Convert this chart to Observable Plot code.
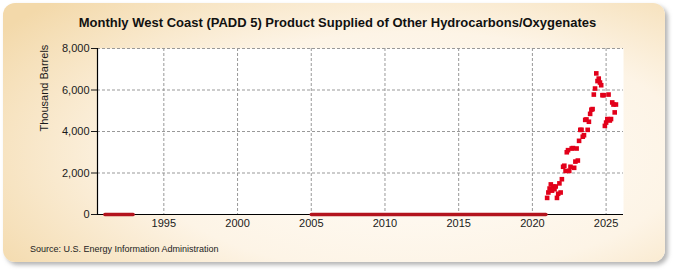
<!DOCTYPE html>
<html>
<head>
<meta charset="utf-8">
<script src="https://cdn.jsdelivr.net/npm/d3@7"></script>
<script src="https://cdn.jsdelivr.net/npm/@observablehq/plot@0.6"></script>
<style>
  html, body { margin: 0; padding: 0; background: #ffffff; }
  #wrap { position: relative; width: 675px; height: 275px; overflow: hidden; font-family: "Liberation Sans", Arial, sans-serif; }
  #panel { position: absolute; left: 3px; top: 3px; width: 662px; height: 259px; border-radius: 12px;
    background: radial-gradient(ellipse 75% 85% at 62% 58%, #fffdf9 0%, #fdf4e6 55%, #f3d9aa 100%);
    box-shadow: 3px 3px 4px rgba(120,120,120,0.55); }
  #title { position: absolute; left: 0; width: 675px; top: 15px; text-align: center; font-weight: bold; font-size: 13px; color: #111; }
  #source { position: absolute; left: 30px; top: 244px; font-size: 9px; color: #222; }
  #chart { position: absolute; left: 0; top: 0; }
</style>
</head>
<body>
<div id="wrap">
  <div id="panel"></div>
  <div id="chart"></div>
  <div id="title">Monthly West Coast (PADD 5) Product Supplied of Other Hydrocarbons/Oxygenates</div>
  <div id="source">Source: U.S. Energy Information Administration</div>
</div>
<script>
// Years in which every monthly value is zero
const zeroYears = [1991, 1992, 2005, 2006, 2007, 2008, 2009, 2010, 2011, 2012, 2013, 2014, 2015, 2016, 2017, 2018, 2019, 2020];
// Monthly values (thousand barrels), Jan..Dec
const values2021 = [800, 1060, 1250, 1450, 1150, 1350, 1220, 1350, 800, 1000, 1500, 1060];
const values2022 = [1700, 2300, 2350, 2100, 3000, 3100, 2100, 2300, 3180, 3200, 2250, 2550];
const values2023 = [3180, 2600, 3550, 4080, 4080, 3750, 3820, 4560, 4580, 4080, 4470, 4850];
const values2024 = [5050, 5080, 5780, 6070, 6800, 6430, 6550, 6360, 6230, 5750, 5750, 4270];
const values2025 = [4430, 4600, 5780, 4530, 4600, 5400, 5300, 4920, 5300];
const xTicks = [1995, 2000, 2005, 2010, 2015, 2020, 2025];
const yTicks = [0, 2000, 4000, 6000, 8000];

const zeroRows = [];
zeroYears.forEach(y => {
  for (let m = 0; m < 12; m++) zeroRows.push({t: y + m / 12, v: 0, seg: y < 2000 ? "a" : "b"});
});
const dotRows = [];
[[2021, values2021], [2022, values2022], [2023, values2023], [2024, values2024], [2025, values2025]].forEach(([y, arr]) => {
  arr.forEach((v, m) => dotRows.push({t: y + m / 12, v}));
});

const chart = Plot.plot({
  width: 675,
  height: 275,
  marginLeft: 97,
  marginRight: 52,
  marginTop: 48,
  marginBottom: 61,
  style: {background: "transparent", fontFamily: "Liberation Sans, Arial, sans-serif", fontSize: "11px", color: "#1a1a1a"},
  x: {domain: [1990.5, 2026.18]},
  y: {domain: [0, 8000]},
  marks: [
    Plot.frame({fill: "white", stroke: null}),
    Plot.gridY(yTicks.filter(d => d > 0), {stroke: "#999", strokeOpacity: 1, strokeDasharray: "3,2"}),
    Plot.gridX(xTicks, {stroke: "#999", strokeOpacity: 1, strokeDasharray: "3,2"}),
    Plot.axisY(yTicks, {tickFormat: d3.format(","), tickSize: 6, tickPadding: 2, label: null, fontSize: 11}),
    Plot.axisX(xTicks, {tickFormat: d => String(d), tickSize: 0, tickPadding: 5, label: null, fontSize: 11}),
    Plot.text(["Thousand Barrels"], {frameAnchor: "left", dx: -53, rotate: -90, fontSize: 11, fill: "#1a1a1a"}),
    Plot.ruleY([0], {stroke: "black", strokeWidth: 1.2}),
    Plot.ruleX([1990.5], {stroke: "black", strokeWidth: 1.2}),
    Plot.line(zeroRows, {x: "t", y: "v", z: "seg", stroke: "#b3141e", strokeWidth: 3.5}),
    Plot.dot(dotRows, {x: "t", y: "v", symbol: "square", r: 2.6, fill: "#e2001a", stroke: null})
  ]
});
document.getElementById("chart").appendChild(chart);
</script>
</body>
</html>
